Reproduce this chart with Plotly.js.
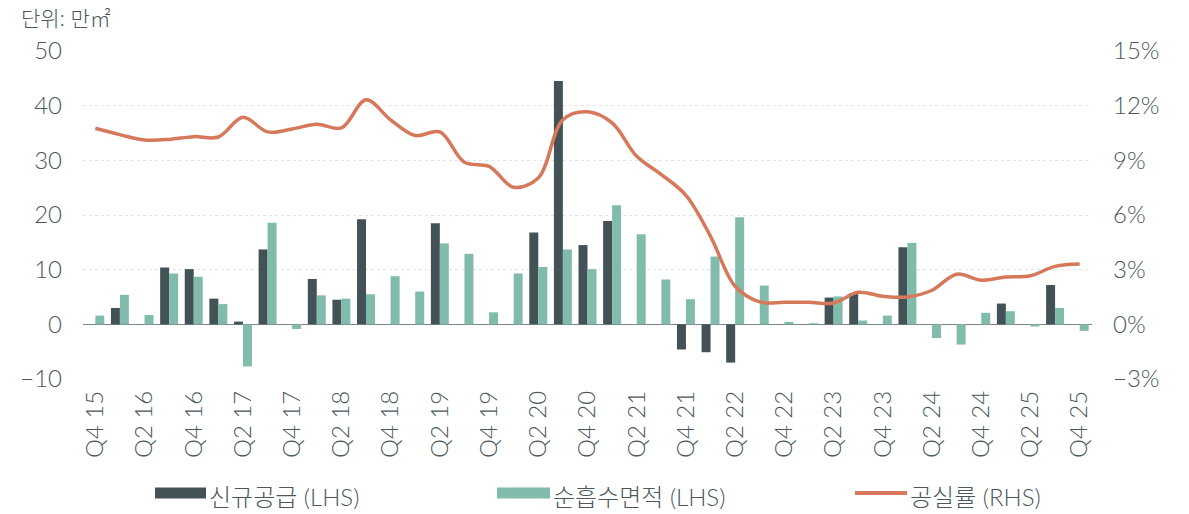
<!DOCTYPE html>
<html>
<head>
<meta charset="utf-8">
<script src="https://cdn.plot.ly/plotly-3.0.1.min.js"></script>
<style>
  html, body { margin: 0; padding: 0; background: #fff; }
  #chart { width: 1189px; height: 514px; }
</style>
</head>
<body>
<div id="chart"></div>
<script>
// quarters Q4 15 .. Q4 25
const quarters = [
  "Q4 15", "Q1 16", "Q2 16", "Q3 16", "Q4 16", "Q1 17", "Q2 17", "Q3 17", "Q4 17",
  "Q1 18", "Q2 18", "Q3 18", "Q4 18", "Q1 19", "Q2 19", "Q3 19", "Q4 19",
  "Q1 20", "Q2 20", "Q3 20", "Q4 20", "Q1 21", "Q2 21", "Q3 21", "Q4 21",
  "Q1 22", "Q2 22", "Q3 22", "Q4 22", "Q1 23", "Q2 23", "Q3 23", "Q4 23",
  "Q1 24", "Q2 24", "Q3 24", "Q4 24", "Q1 25", "Q2 25", "Q3 25", "Q4 25"
];

// 신규공급 (만㎡)
const newSupply = [
  null, 3.0, null, 10.4, 10.1, 4.7, 0.5, 13.7, null,
  8.3, 4.5, 19.2, null, null, 18.5, null, null,
  null, 16.8, 44.5, 14.5, 18.9, null, null, -4.6,
  -5.1, -7.0, null, null, null, 4.9, 5.7, null,
  14.1, null, null, null, 3.8, null, 7.2, null
];

// 순흡수면적 (만㎡)
const netAbsorption = [
  1.6, 5.4, 1.7, 9.3, 8.7, 3.7, -7.7, 18.6, -0.85,
  5.3, 4.7, 5.5, 8.8, 6.0, 14.8, 12.9, 2.2,
  9.3, 10.5, 13.7, 10.1, 21.8, 16.5, 8.2, 4.6,
  12.4, 19.6, 7.1, 0.45, 0.2, 5.1, 0.7, 1.6,
  14.9, -2.5, -3.7, 2.1, 2.4, -0.4, 3.0, -1.2
];

// 공실률 (%)
const vacancy = [
  10.76, 10.41, 10.12, 10.15, 10.30, 10.28, 11.36, 10.56, 10.72,
  10.98, 10.78, 12.32, 11.22, 10.36, 10.56, 8.89, 8.67,
  7.52, 8.03, 11.23, 11.66, 11.05, 9.22, 8.22, 7.08,
  4.83, 2.09, 1.23, 1.21, 1.21, 1.17, 1.76, 1.54,
  1.50, 1.87, 2.75, 2.42, 2.60, 2.67, 3.18, 3.31
];

const tickQuarters = quarters.filter((q, i) => i % 2 === 0);

const darkColor = "#435256";
const greenColor = "#80bbac";
const lineColor = "#d5795a";
const textColor = "#4b585b";
const fontFamily = "Lato, 'Noto Sans CJK KR', sans-serif";

const data = [
  {
    type: "bar", name: "신규공급 (LHS)", x: quarters, y: newSupply,
    marker: { color: darkColor }, showlegend: false
  },
  {
    type: "bar", name: "순흡수면적 (LHS)", x: quarters, y: netAbsorption,
    marker: { color: greenColor }, showlegend: false
  },
  {
    type: "scatter", mode: "lines", name: "공실률 (RHS)", x: quarters, y: vacancy,
    yaxis: "y2", line: { color: lineColor, width: 3.5, shape: "spline", smoothing: 1 },
    showlegend: false
  }
];

// hand-made legend (wide swatches like the original)
const legendItems = [
  { label: "신규공급 (LHS)", color: darkColor, kind: "rect", x0: 155, x1: 206 },
  { label: "순흡수면적 (LHS)", color: greenColor, kind: "rect", x0: 497, x1: 550 },
  { label: "공실률 (RHS)", color: lineColor, kind: "line", x0: 855, x1: 907 }
];
const W = 1189, H = 514;
const swY = 493.5, txtY = 497;
const py = v => (379.3 - v) / 328.6;   // pixel row -> paper y
const px = v => (v - 83) / 1009;       // pixel col -> paper x
const shapes = [], annotations = [];
legendItems.forEach(it => {
  if (it.kind === "rect") {
    shapes.push({
      type: "rect", xref: "paper", yref: "paper",
      x0: px(it.x0), x1: px(it.x1), y0: py(swY + 5.5), y1: py(swY - 5.5),
      fillcolor: it.color, line: { width: 0 }
    });
  } else {
    shapes.push({
      type: "line", xref: "paper", yref: "paper",
      x0: px(it.x0), x1: px(it.x1), y0: py(swY), y1: py(swY),
      line: { color: it.color, width: 4 }
    });
  }
  annotations.push({
    xref: "paper", yref: "paper", x: px(it.x1 + 1), y: py(txtY),
    xanchor: "left", yanchor: "middle", showarrow: false, text: it.label,
    font: { family: fontFamily, size: 24, color: textColor, weight: 300 }
  });
});

annotations.push({
  xref: "paper", yref: "paper", x: px(19), y: py(17),
  xanchor: "left", yanchor: "middle", showarrow: false, text: "단위: 만㎡",
  font: { family: fontFamily, size: 21, color: textColor, weight: 300 }
});

const layout = {
  width: W, height: H,
  margin: { l: 83, r: 97, t: 51, b: 135 },
  paper_bgcolor: "#ffffff", plot_bgcolor: "#ffffff",
  font: { family: fontFamily, color: textColor },
  barmode: "group", bargap: 0.27, bargroupgap: 0,
  showlegend: false,
  xaxis: {
    type: "category", categoryorder: "array", categoryarray: quarters,
    range: [-0.5, 40.5],
    tickmode: "array", tickvals: tickQuarters, ticktext: tickQuarters,
    tickangle: -90, tickfont: { size: 24, color: textColor, weight: 300 },
    showgrid: false, showline: false, ticks: "", ticklabelstandoff: 6
  },
  yaxis: {
    range: [-10, 50], dtick: 10, tick0: 0,
    tickfont: { size: 24, color: textColor, weight: 300 },
    showgrid: true, gridcolor: "#dfe7e7", griddash: "dot", gridwidth: 1,
    zeroline: true, zerolinecolor: "#7b8689", zerolinewidth: 1.5,
    ticks: "", ticklabelstandoff: 20
  },
  yaxis2: {
    overlaying: "y", side: "right",
    range: [-3, 15], dtick: 3, tick0: 0, ticksuffix: "%",
    tickfont: { size: 24, color: textColor, weight: 300 },
    showgrid: false, zeroline: false, ticks: "", ticklabelstandoff: 20
  },
  shapes: shapes,
  annotations: annotations
};

Plotly.newPlot("chart", data, layout, { displayModeBar: false, staticPlot: true });
</script>
</body>
</html>
